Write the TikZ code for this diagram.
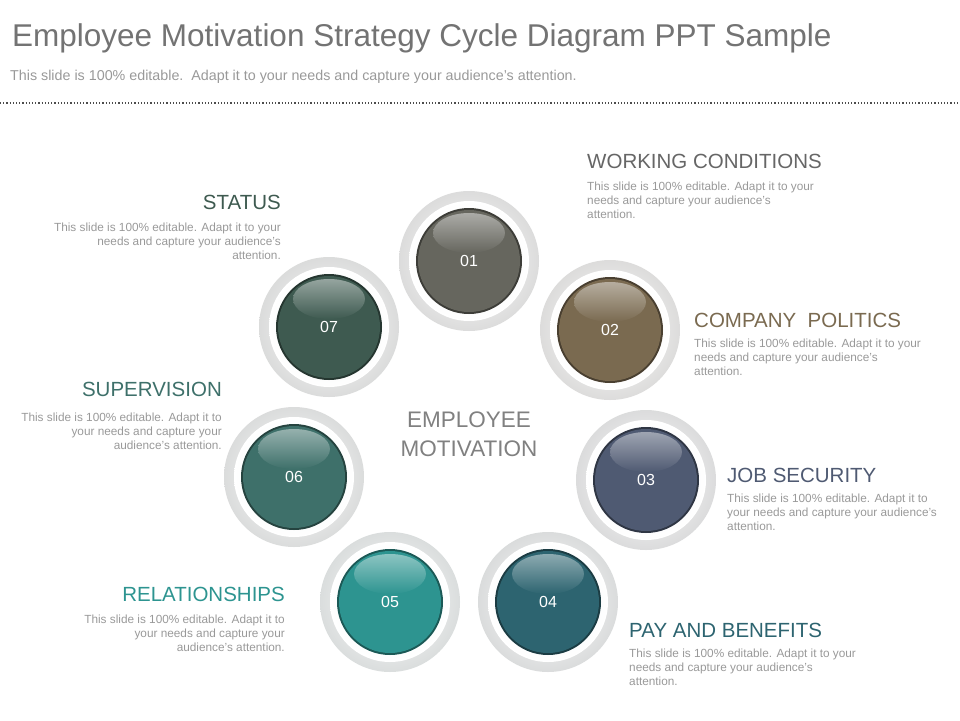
\documentclass[tikz,border=0pt]{standalone}
\usepackage{fontspec}
\setmainfont{Liberation Sans}
\begin{document}
\begin{tikzpicture}[x=1pt,y=-1pt,
  body/.style={font=\fontsize{11.8}{14}\selectfont,text=black!40,inner sep=0pt},
  head/.style={font=\fontsize{20.5}{22}\selectfont,inner sep=0pt},
  num/.style={font=\fontsize{16}{18}\selectfont,text=white}]
\useasboundingbox (0,0) rectangle (960,720);
\node[anchor=west,inner sep=0pt,text=black!55,font=\fontsize{31.5}{33}\selectfont] (title) at (12,38) {Employee Motivation Strategy Cycle Diagram PPT Sample};
\node[anchor=west,inner sep=0pt,text=black!40,font=\fontsize{14.3}{16}\selectfont] (sub) at (10,77) {This slide is 100\% editable.\ \ Adapt it to your needs and capture your audience's attention.};
\draw[black!70,dotted,line width=1.2pt] (0,103) -- (960,103);
\newcommand\ball[5]{% name, x, y, color, num
  \shade[inner color=white,outer color=#4!20!black!15] (#2,#3) circle (70);
  \shade[inner color=white!90!#4,outer color=white] (#2,#3) circle (60);
  \fill[#4!60!black] (#2,#3) circle (53);
  \fill[#4] (#2,#3) circle (51);
  \begin{scope}
  \clip (#2,#3) circle (50);
  \shade[top color=white!45!#4,bottom color=#4] (#2,#3-28) ellipse (36 and 20);
  \end{scope}
  \node[num] (#1) at (#2,#3) {#5};}
\definecolor{c1}{HTML}{66665E}
\definecolor{c2}{HTML}{7A6A50}
\definecolor{c3}{HTML}{4F5A72}
\definecolor{c4}{HTML}{2D6470}
\definecolor{c5}{HTML}{2D9490}
\definecolor{c6}{HTML}{3E706A}
\definecolor{c7}{HTML}{3E5A50}
\ball{n1}{469}{261}{c1}{01}
\ball{n2}{610}{330}{c2}{02}
\ball{n3}{646}{480}{c3}{03}
\ball{n4}{548}{602}{c4}{04}
\ball{n5}{390}{602}{c5}{05}
\ball{n6}{294}{477}{c6}{06}
\ball{n7}{329}{327}{c7}{07}
\node[text=black!50,font=\fontsize{22.5}{29}\selectfont,align=center] (center) at (469,434) {EMPLOYEE\\MOTIVATION};
% right side
\node[head,anchor=base west,text=black!60] (h1) at (587,168) {WORKING CONDITIONS};
\node[body,anchor=north west,align=left] (b1) at (587,182) {This slide is 100\% editable. Adapt it to your\\needs and capture your audience's\\attention.};
\node[head,anchor=base west,text=c2] (h2) at (694,327) {COMPANY\ \ POLITICS};
\node[body,anchor=north west,align=left] (b2) at (694,339) {This slide is 100\% editable. Adapt it to your\\needs and capture your audience's\\attention.};
\node[head,anchor=base west,text=c3] (h3) at (727,482) {JOB SECURITY};
\node[body,anchor=north west,align=left] (b3) at (727,494) {This slide is 100\% editable. Adapt it to\\your needs and capture your audience's\\attention.};
\node[head,anchor=base west,text=c4] (h4) at (629,637) {PAY AND BENEFITS};
\node[body,anchor=north west,align=left] (b4) at (629,649) {This slide is 100\% editable. Adapt it to your\\needs and capture your audience's\\attention.};
% left side
\node[head,anchor=base east,text=c7] (h7) at (281,209) {STATUS};
\node[body,anchor=north east,align=right] (b7) at (281,223) {This slide is 100\% editable. Adapt it to your\\needs and capture your audience's\\attention.};
\node[head,anchor=base east,text=c6] (h6) at (222,396) {SUPERVISION};
\node[body,anchor=north east,align=right] (b6) at (222,413) {This slide is 100\% editable. Adapt it to\\your needs and capture your\\audience's attention.};
\node[head,anchor=base east,text=c5] (h5) at (285,601) {RELATIONSHIPS};
\node[body,anchor=north east,align=right] (b5) at (285,615) {This slide is 100\% editable. Adapt it to\\your needs and capture your\\audience's attention.};
\end{tikzpicture}
\end{document}
